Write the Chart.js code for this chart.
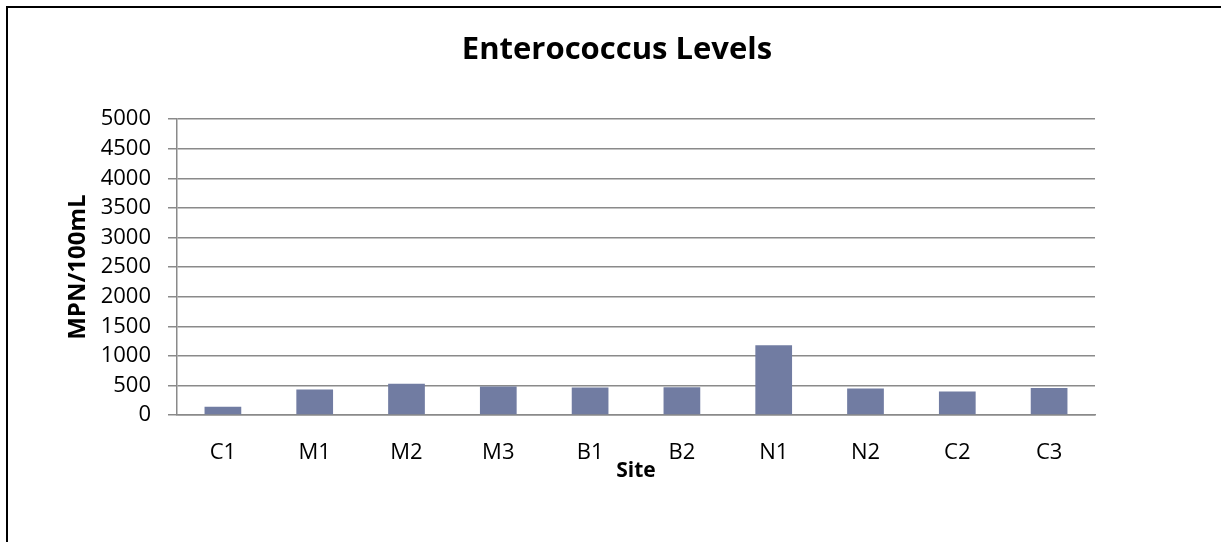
<!DOCTYPE html>
<html>
<head>
<meta charset="utf-8">
<script src="https://cdn.jsdelivr.net/npm/chart.js@4"></script>
<style>
    html, body { margin: 0; padding: 0; background: #fff; overflow: hidden; }
    #frame {
        position: absolute; left: 6px; top: 6px;
        width: 1400px; height: 700px;
        border: 2px solid #000; box-sizing: border-box;
    }
    #myChart { position: absolute; left: 0; top: 0; }
</style>
</head>
<body>
<div id="frame"></div>
<canvas id="myChart" width="1221" height="542"></canvas>
<script>
const sites = ['C1', 'M1', 'M2', 'M3', 'B1', 'B2', 'N1', 'N2', 'C2', 'C3'];
const enterococcus = [141, 433, 530, 481, 464, 469, 1180, 447, 396, 457];
const yTicks = [0, 500, 1000, 1500, 2000, 2500, 3000, 3500, 4000, 4500, 5000];

const gridGray = '#8a8a8a';
const fontName = "'Open Sans', 'Noto Sans', sans-serif";

document.addEventListener('DOMContentLoaded', function() {
    const ctx = document.getElementById('myChart').getContext('2d');
    const myChart = new Chart(ctx, {
        type: 'bar',
        data: {
            labels: sites,
            datasets: [{
                data: enterococcus,
                backgroundColor: '#717ca2',
                borderWidth: 0,
                categoryPercentage: 1,
                barPercentage: 0.4
            }]
        },
        options: {
            responsive: false,
            animation: false,
            layout: {
                padding: { left: 13, right: 0, top: 0, bottom: 0 }
            },
            plugins: {
                legend: { display: false },
                tooltip: { enabled: false },
                title: {
                    display: true,
                    text: 'Enterococcus Levels',
                    color: '#000',
                    font: { family: fontName, size: 31, weight: 'bold', lineHeight: 1.2 },
                    padding: { top: 32, bottom: 50 }
                }
            },
            scales: {
                x: {
                    grid: { display: false },
                    border: { display: true, color: gridGray, width: 1.5 },
                    ticks: {
                        color: '#000',
                        font: { family: fontName, size: 22 },
                        padding: 17
                    },
                    title: {
                        display: true,
                        text: 'Site',
                        color: '#000',
                        font: { family: fontName, size: 21, weight: 'bold', lineHeight: 1.2 },
                        padding: { top: 0, bottom: 58 }
                    },
                    afterFit: function(scale) {
                        scale.height = 127;
                    }
                },
                y: {
                    min: 0,
                    max: 5000,
                    afterBuildTicks: function(scale) {
                        scale.ticks = yTicks.map(v => ({ value: v }));
                    },
                    grid: {
                        color: gridGray,
                        lineWidth: 1.5,
                        tickLength: 9
                    },
                    border: { display: true, color: gridGray, width: 1.5 },
                    ticks: {
                        color: '#000',
                        font: { family: fontName, size: 22 },
                        padding: 17,
                        callback: v => String(v)
                    },
                    title: {
                        display: true,
                        text: 'MPN/100mL',
                        color: '#000',
                        font: { family: fontName, size: 24, weight: 'bold', lineHeight: 1.2 },
                        padding: { top: 51, bottom: 0 }
                    },
                    afterFit: function(scale) {
                        scale.width = 164;
                    }
                },
                // empty right axis, only keeps the plot clear of the right side
                spacer: {
                    type: 'linear',
                    position: 'right',
                    display: true,
                    grid: { display: false },
                    border: { display: false },
                    ticks: { display: false },
                    afterFit: function(scale) {
                        scale.width = 126;
                    }
                }
            }
        }
    });
});
</script>
</body>
</html>
